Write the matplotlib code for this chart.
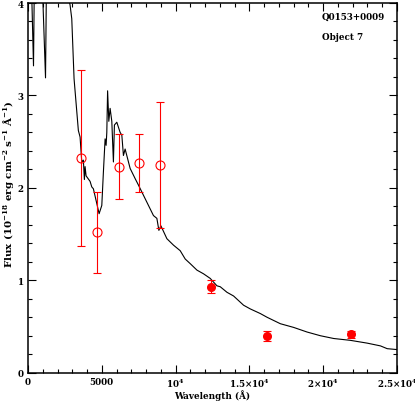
import numpy as np
import matplotlib
matplotlib.use("Agg")
import matplotlib.pyplot as plt
from matplotlib.ticker import MultipleLocator, FixedLocator, FixedFormatter

# model spectrum (wavelength in A, flux in 1e-18 erg/cm2/s/A)
spec_wave = [204, 373, 441, 950, 1187, 1255, 1832, 2849, 2965, 3121, 3256, 3412,
             3528, 3643, 3752, 3820, 3867, 3935, 4206, 4321, 4430, 4661, 4817,
             5000, 5108, 5224, 5292, 5339, 5393, 5475, 5563, 5678, 5787, 5855,
             6017, 6241, 6357, 6465, 6580, 6920, 7259, 7483, 7822, 8161, 8500,
             8731, 8867, 9002, 9409, 9857, 10312, 10651, 10990, 11445, 11892,
             12347, 12801, 13025, 13480, 13928, 14606, 15061, 15739, 16194,
             17096, 17998, 18908, 19810, 20712, 21845, 22978, 23880, 24335, 25013]
spec_flux = [4.4, 3.32, 4.4, 4.3, 3.19, 4.3, 4.6, 3.98, 3.83, 3.18, 2.92, 2.62,
             2.55, 2.28, 2.30, 2.09, 2.23, 2.13, 2.07, 2.01, 1.99, 1.83, 1.72,
             1.81, 2.17, 2.53, 2.46, 2.60, 3.05, 2.72, 2.86, 2.72, 2.28, 2.68,
             2.71, 2.60, 2.57, 2.35, 2.42, 2.21, 2.10, 2.03, 1.92, 1.81, 1.70,
             1.67, 1.54, 1.59, 1.45, 1.38, 1.32, 1.23, 1.18, 1.11, 1.07,
             1.02, 0.94, 0.93, 0.87, 0.83, 0.73, 0.69, 0.64, 0.60,
             0.53, 0.49, 0.44, 0.40, 0.37, 0.35, 0.32, 0.29, 0.26, 0.25]

# photometry: optical (open) and near-IR (filled)
opt_wave = [3600, 4660, 6150, 7490, 8960]
opt_flux = [2.32, 1.52, 2.23, 2.27, 2.25]
opt_err = [0.95, 0.44, 0.35, 0.31, 0.68]

ir_wave = [12400, 16170, 21900]
ir_flux = [0.93, 0.40, 0.415]
ir_err = [0.07, 0.055, 0.04]

xtick_vals = [0, 5000, 10000, 15000, 20000, 25000]
xtick_labels = ['0', '5000', r'10$^{4}$', r'1.5$\times$10$^{4}$',
                r'2$\times$10$^{4}$', r'2.5$\times$10$^{4}$']

plt.rcParams['font.family'] = ['DejaVu Serif']
plt.rcParams['font.weight'] = 'bold'
plt.rcParams['mathtext.default'] = 'bf'
plt.rcParams['mathtext.fontset'] = 'dejavuserif'

fs = 6.3

fig = plt.figure(figsize=(4.15, 4.02), dpi=100)
ax = fig.add_axes([28 / 415, 1 - 373.7 / 402, 369 / 415, 369.7 / 402])

ax.plot(spec_wave, spec_flux, color='black', lw=0.8)

ax.errorbar(opt_wave, opt_flux, yerr=opt_err, fmt='o', mfc='none', mec='red',
            ms=6.5, mew=0.8, ecolor='red', elinewidth=0.8, capsize=3, capthick=0.8)
ax.errorbar(ir_wave, ir_flux, yerr=ir_err, fmt='o', color='red',
            ms=5.5, ecolor='red', elinewidth=0.8, capsize=3, capthick=0.8)

ax.set_xlim(0, 25000)
ax.set_ylim(0, 4)
ax.xaxis.set_major_locator(FixedLocator(xtick_vals))
ax.xaxis.set_major_formatter(FixedFormatter(xtick_labels))
ax.xaxis.set_minor_locator(MultipleLocator(1000))
ax.yaxis.set_major_locator(MultipleLocator(1))
ax.yaxis.set_minor_locator(MultipleLocator(0.2))
ax.tick_params(which='both', direction='in', top=True, right=True, labelsize=fs)
ax.tick_params(which='major', length=6, width=0.8, pad=3)
ax.tick_params(which='minor', length=3, width=0.8)
for s in ax.spines.values():
    s.set_linewidth(1.1)

ax.set_xlabel('Wavelength (Å)', fontsize=fs, fontweight='bold')
ax.set_ylabel(r'Flux (10$^{-18}$ erg cm$^{-2}$ s$^{-1}$ Å$^{-1}$)',
              fontsize=7.4, fontweight='bold')
ax.xaxis.set_label_coords(0.5, -0.045)
ax.yaxis.set_label_coords(-0.032, 0.513)

ax.text(0.797, 0.975, 'Q0153+0009', transform=ax.transAxes, fontsize=fs,
        fontweight='bold', va='top')
ax.text(0.797, 0.922, 'Object 7', transform=ax.transAxes, fontsize=fs,
        fontweight='bold', va='top')

fig.savefig('out.png', dpi=100)
